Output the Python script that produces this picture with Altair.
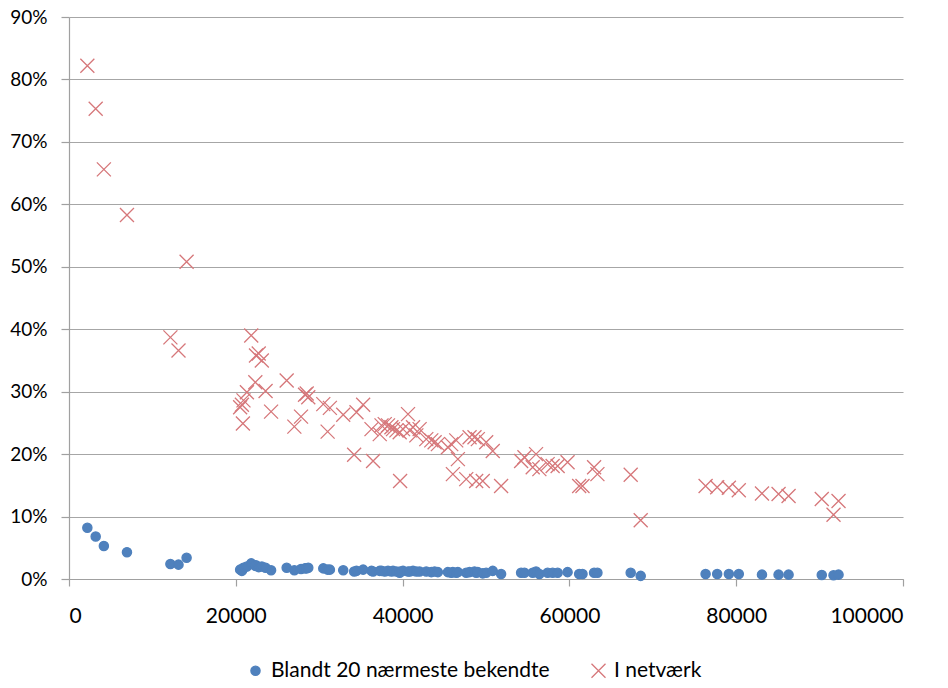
import altair as alt
import pandas as pd

# shared x positions
x_vals = [2200, 3200, 4180, 6950, 12160, 13130, 14100, 20520, 20730, 20850,
          20920, 21330, 21850, 22340, 22420, 22750, 23120, 23570, 24230, 26100,
          27020, 27820, 28300, 28500, 28690, 30490, 31010, 31280, 32880, 34190,
          34470, 35270, 36270, 36460, 37260, 37470, 37860, 38250, 38660, 38850,
          39260, 39650, 39700, 40050, 40650, 40850, 41250, 41650, 42040, 42840,
          43440, 43840, 44230, 45430, 45830, 46030, 46430, 46630, 47630, 48030,
          48620, 48820, 49020, 49610, 50020, 50810, 51810, 54210, 54610, 55600,
          56000, 56400, 57390, 57990, 58590, 59780, 61170, 61570, 62960, 63360,
          67350, 68550, 76330, 77720, 79120, 80310, 83090, 85080, 86280, 90260,
          91670, 92270]

# "I netværk" (%)
network = [82.2, 75.3, 65.6, 58.3, 38.7, 36.6, 50.8, 27.5, 27.9, 24.9,
           28.6, 29.9, 39.0, 31.5, 35.8, 36.1, 35.0, 30.1, 26.8, 31.8,
           24.4, 26.0, 29.5, 29.7, 29.1, 28.0, 23.6, 27.4, 26.3, 19.9,
           26.7, 27.9, 24.0, 18.9, 23.2, 24.6, 24.8, 24.6, 24.3, 24.0,
           23.8, 23.5, 15.7, 24.0, 26.4, 23.8, 24.3, 23.0, 24.0, 22.4,
           22.2, 21.9, 21.6, 21.1, 21.6, 16.8, 22.2, 19.2, 16.0, 22.7,
           22.7, 15.7, 22.4, 15.7, 21.9, 20.5, 14.9, 18.9, 19.5, 17.9,
           20.0, 17.6, 18.4, 18.1, 18.1, 18.7, 14.9, 14.9, 17.9, 16.8,
           16.7, 9.4, 14.9, 14.7, 14.6, 14.2, 13.7, 13.6, 13.3, 12.8,
           10.3, 12.5]

# "Blandt 20 nærmeste bekendte" (%)
near20 = [8.2, 6.8, 5.3, 4.3, 2.4, 2.3, 3.4, 1.5, 1.3, 1.6,
          1.8, 2.0, 2.5, 2.1, 2.2, 1.9, 2.0, 1.8, 1.4, 1.8,
          1.4, 1.6, 1.7, 1.7, 1.8, 1.7, 1.5, 1.5, 1.4, 1.2,
          1.3, 1.5, 1.3, 1.2, 1.3, 1.3, 1.2, 1.3, 1.2, 1.3,
          1.2, 1.0, 1.2, 1.3, 1.2, 1.2, 1.3, 1.2, 1.2, 1.2,
          1.1, 1.2, 1.1, 1.1, 1.0, 1.1, 1.0, 1.1, 1.0, 1.1,
          1.2, 1.0, 1.1, 0.9, 1.0, 1.3, 0.8, 1.0, 1.0, 1.0,
          1.2, 0.8, 1.0, 1.0, 1.0, 1.1, 0.8, 0.8, 1.0, 1.0,
          1.0, 0.5, 0.8, 0.8, 0.8, 0.8, 0.7, 0.7, 0.7, 0.65,
          0.6, 0.7]

series_names = ["Blandt 20 nærmeste bekendte", "I netværk"]
x_ticks = [0, 20000, 40000, 60000, 80000, 100000]
y_ticks = [0, 0.1, 0.2, 0.3, 0.4, 0.5, 0.6, 0.7, 0.8, 0.9]

rows = []
for xv, b, r in zip(x_vals, near20, network):
    rows.append({"x": xv, "y": b / 100, "series": series_names[0]})
    rows.append({"x": xv, "y": r / 100, "series": series_names[1]})
df = pd.DataFrame(rows)

circle_path = "M-0.66,0A0.66,0.66 0 1,0 0.66,0A0.66,0.66 0 1,0 -0.66,0Z"
x_path = "M-1,-1L1,1M-1,1L1,-1"

BLUE = "#4f81bd"
RED = "#d6777a"

leg = alt.Legend(title=None, orient="none", legendX=176, legendY=643,
                 direction="horizontal", columns=2, columnPadding=38,
                 labelFont="Lato", labelFontSize=21, labelColor="black",
                 labelLimit=500, labelOffset=5, symbolSize=196,
                 symbolStrokeWidth=1.3, padding=0)

chart = alt.Chart(df).mark_point(size=196, strokeWidth=1.3, opacity=1).encode(
    x=alt.X("x:Q",
            scale=alt.Scale(domain=[0, 100000], nice=False, zero=True),
            axis=alt.Axis(values=x_ticks, format="d", grid=False, title=None,
                          tickSize=7, labelPadding=19, labelFontSize=21)),
    y=alt.Y("y:Q",
            scale=alt.Scale(domain=[0, 0.9], nice=False),
            axis=alt.Axis(values=y_ticks, format=".0%", grid=True, title=None,
                          tickSize=8, labelPadding=14, labelFontSize=19)),
    shape=alt.Shape("series:N",
                    scale=alt.Scale(domain=series_names, range=[circle_path, x_path]),
                    legend=leg),
    fill=alt.Fill("series:N",
                  scale=alt.Scale(domain=series_names, range=[BLUE, "transparent"]),
                  legend=leg),
    stroke=alt.Stroke("series:N",
                      scale=alt.Scale(domain=series_names, range=[BLUE, RED]),
                      legend=leg),
).properties(
    width=834,
    height=562,
    autosize=alt.AutoSizeParams(type="none"),
    padding={"left": 61, "top": 9, "right": 37, "bottom": 101},
).configure_view(
    stroke="transparent"
).configure_axis(
    domainColor="#a0a0a0",
    tickColor="#a0a0a0",
    gridColor="#a6a6a6",
    domainWidth=1.2,
    tickWidth=1.2,
    gridWidth=1.2,
    labelFont="Lato",
    labelColor="black",
)

chart.save("out.html", embed_options={"renderer": "svg", "actions": False})
